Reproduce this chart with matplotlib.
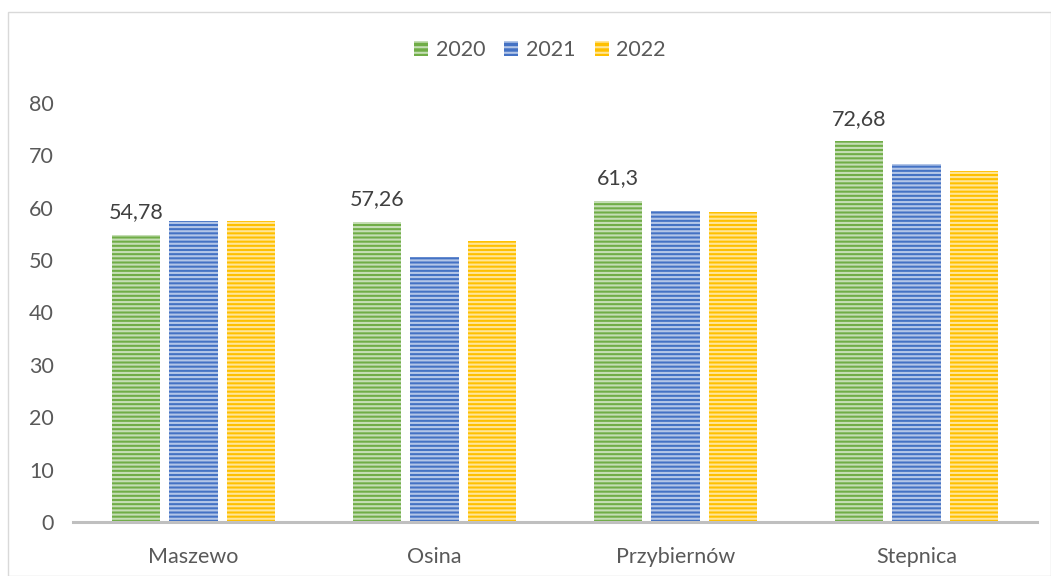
import matplotlib
matplotlib.use("Agg")
import matplotlib.pyplot as plt
import numpy as np
from matplotlib.patches import Rectangle

categories = ["Maszewo", "Osina", "Przybiernów", "Stepnica"]
years = ["2020", "2021", "2022"]
v2020 = [54.78, 57.26, 61.3, 72.68]
v2021 = [57.4, 50.6, 59.4, 68.3]
v2022 = [57.4, 53.6, 59.2, 67.0]
labels2020 = ["54,78", "57,26", "61,3", "72,68"]
yticks = [0, 10, 20, 30, 40, 50, 60, 70, 80]

colors = ["#70AD47", "#4472C4", "#FFC000"]
series = [v2020, v2021, v2022]

plt.rcParams['font.family'] = ['Lato', 'DejaVu Sans']
plt.rcParams['hatch.linewidth'] = 1.5
txt = "#595959"

fig = plt.figure(figsize=(10.51, 5.76), dpi=100)
ax = fig.add_axes([73/1051, 1 - 522/576, (1037 - 73)/1051, (522 - 103)/576])

x = np.arange(len(categories))
w = 0.2
gap = 0.04
offsets = [-(w + gap), 0, (w + gap)]
for i, (vals, c) in enumerate(zip(series, colors)):
    ax.bar(x + offsets[i], vals, width=w, color=c, edgecolor="none", zorder=2)
    ax.bar(x + offsets[i], vals, width=w, facecolor="none", edgecolor=(1, 1, 1, 0.6),
           hatch="----", linewidth=0, zorder=3)

for xi, v, lab in zip(x, v2020, labels2020):
    ax.text(xi + offsets[0], v + 2.4, lab, ha="center", va="bottom", fontsize=15.5, color="#404040")

ax.set_xlim(-0.5, 3.5)
ax.set_ylim(0, 80)
ax.set_yticks(yticks)
ax.set_xticks(x)
ax.set_xticklabels(categories)
ax.tick_params(axis="both", length=0, labelsize=15.5, colors=txt)
ax.tick_params(axis="y", pad=14)
ax.tick_params(axis="x", pad=18)
for s in ["top", "right", "left"]:
    ax.spines[s].set_visible(False)
ax.spines["bottom"].set_color("#BFBFBF")
ax.spines["bottom"].set_linewidth(2.2)

handles = []
for c in colors:
    h = Rectangle((0, 0), 1, 1, facecolor=c, edgecolor=(1, 1, 1, 0.6), hatch="---", linewidth=0)
    handles.append(h)
leg = fig.legend(handles, years, loc="center", bbox_to_anchor=(540/1051, 1 - 50/576), ncol=3,
                 frameon=False, fontsize=15.5, handlelength=0.65, handleheight=0.65,
                 handletextpad=0.35, columnspacing=0.9, labelcolor=txt)

fig.patches.append(Rectangle((8/1051, 0), 1 - 8/1051 - 0.5/1051, 1 - 12/576, transform=fig.transFigure,
                             fill=False, edgecolor="#D9D9D9", linewidth=1))

fig.savefig("out.png", dpi=100)
